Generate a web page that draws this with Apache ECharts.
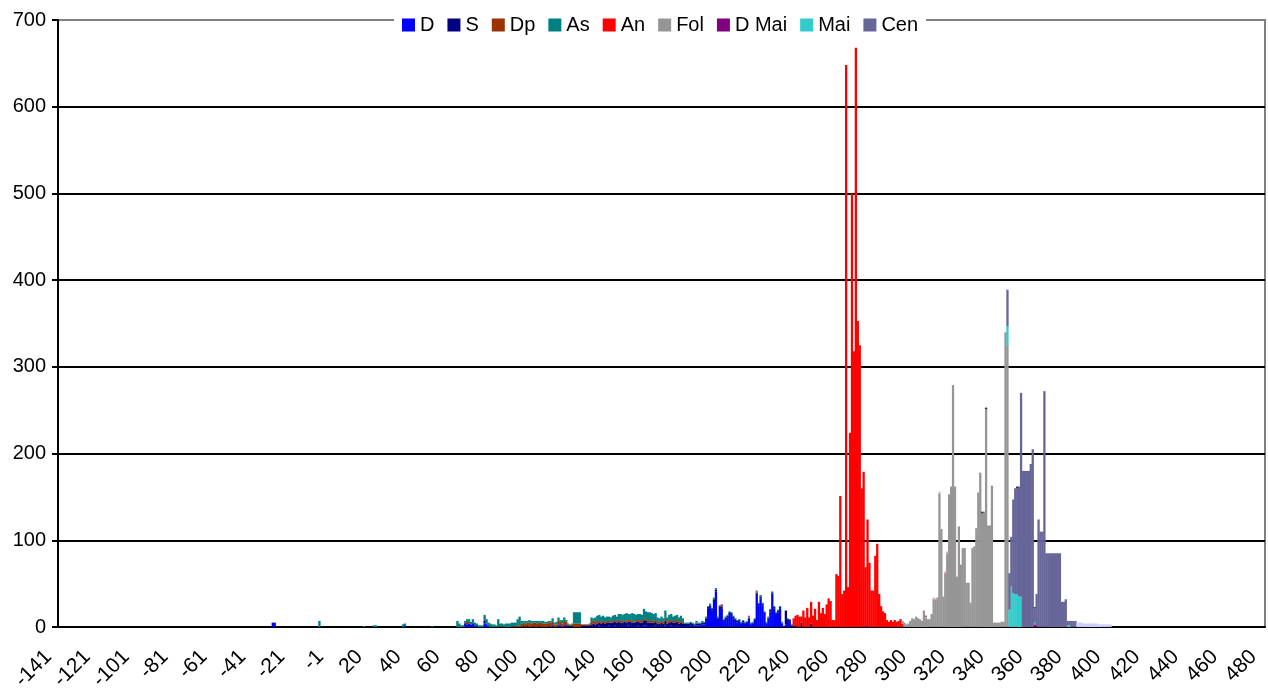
<!DOCTYPE html>
<html><head><meta charset="utf-8">
<script src="https://cdn.jsdelivr.net/npm/echarts@6/dist/echarts.min.js"></script>
<style>html,body{margin:0;padding:0;background:#fff}#c{width:1268px;height:690px}</style>
</head><body><div id="c"></div>
<script>
// ---- categories: years -141..-1, 1..480 (no year 0) ----
const FIRST_YEAR = -141, LAST_YEAR = 480;
const categories = [];
for (let y = FIRST_YEAR; y <= LAST_YEAR; y++) if (y !== 0) categories.push(String(y));

const legendNames = ['D','S','Dp','As','An','Fol','D Mai','Mai','Cen'];
const yTicks = [0,100,200,300,400,500,600,700];

// ---- series values (start year + consecutive yearly values, plus isolated [year,value] pairs) ----
const D_START = 60;
const D_VALS = [
 0,0,0,0,0,0,0,0,0,4, 3,4,3,4,2,1,0,0,0,4, 3,1,0,0,0,0,0,0,0,0, 0,0,0,0,0,0,0,0,0,0,
 0,0,0,0,0,0,0,0,0,0, 0,0,0,0,1,0,0,2,1,0, 2,1,0,0,0,0,0,0,0,0, 0,0,0,0,1,1,1,1,2,1,
 1,1,1,2,1,1,2,1,1,1, 1,1,1,2,1,1,1,1,2,1, 1,2,2,1,1,1,1,2,1,1, 1,1,2,1,1,2,1,1,2,1,
 1,1,1,1,1,2,1,2,2,2, 2,3,3,8,21,23,19,30,41,8, 22,21,6,9,11,15,14,10,7,5,
 6,4,5,4,5,8,3,4,7,37, 25,33,25,15,4,10,18,37,21,14, 17,21,4,0,3,7,6,1,0,0, 0];
const D_EXTRA = [[-31,5],[-30,5],[38,2],[275,2]];

const S_START = 60;
const S_VALS = [
 0,0,0,0,0,0,0,0,0,1, 0,0,0,1,0,0,0,0,0,3, 1,0,0,0,0,0,0,0,0,0, 0,0,0,0,0,0,0,0,0,1,
 0,1,0,0,1,0,0,1,0,0, 0,0,1,0,1,0,0,1,1,0, 1,1,1,1,1,0,0,0,0,2, 2,2,2,2,2,3,2,3,3,3,
 4,3,4,3,4,4,4,4,5,4, 4,5,4,4,5,4,4,5,4,4, 4,5,5,4,4,4,4,4,3,3, 4,3,5,3,4,4,4,4,4,3,
 4,3,3,3,3,3,3,1,2,2, 2,2,2,2,2,2,2,2,2,2, 2,2,2,2,2,2,2,2,2,2,
 2,1,2,1,1,2,1,1,2,2, 2,2,2,2,1,1,2,2,2,2, 2,2,1,1,16,2,2,1,1,2, 0];
const S_EXTRA = [[242,5],[247,4]];

const DP_START = 60;
const DP_VALS = [
 0,0,0,0,0,0,0,0,0,0, 3,2,0,0,0,0,0,0,0,1, 0,0,0,0,0,0,0,1,1,0, 0,0,0,1,1,1,2,2,4,4,
 4,4,5,4,4,5,4,4,5,4, 4,4,4,5,4,3,3,4,4,4, 4,4,2,1,2,4,4,4,4,1, 1,1,1,1,3,3,3,3,2,2,
 2,2,2,2,1,2,2,2,2,2, 2,1,2,2,2,2,1,2,2,2, 2,3,2,2,2,2,2,2,2,2, 2,2,4,2,3,2,2,2,3,2,
 2,2,0,0,0,0,0,0,1,0, 0,0,0,0,0,0,0,0,0,0, 0,0,0,0,0,0,0,0,0,0,
 0,0,0,0,0,1,0,0,0,1, 0,0,0,0,0,0,0,0,0,0, 0,0,0,0,0,0,0,0,0,0, 0];

const AS_START = 60;
const AS_VALS = [
 0,0,0,0,0,7,4,2,2,2, 3,3,3,4,3,3,2,2,2,6, 5,4,4,3,3,2,9,3,3,3, 4,4,4,4,4,4,7,10,3,2,
 3,2,3,3,2,2,3,2,2,3, 2,2,2,2,4,2,3,4,2,4, 4,2,1,1,1,13,13,13,13,0, 0,0,0,1,5,3,5,6,7,6,
 6,5,5,5,5,6,6,5,7,8, 7,8,9,7,7,9,9,6,7,8, 7,11,9,10,10,9,8,8,5,4, 5,4,8,5,6,7,5,6,5,5,
 6,4,1,1,1,1,1,1,2,1, 1,2,1,2,1,2,1,2,2,2, 1,1,1,1,1,1,1,1,1,1,
 1,1,1,1,1,1,1,1,1,1, 1,2,1,1,1,1,1,2,1,1, 1,1,1,0,0,1,1,1,0,0, 0];
const AS_EXTRA = [[-7,7],[17,1],[22,2],[23,2],[37,3],[38,2],[52,1]];

const AN_START = 238;
const AN_VALS = [
 9,11,14,12,7,19,11,22,11,25, 13,21,8,29,16,22,15,26,33,30,
 8,8,61,59,151,38,42,648,46,224, 500,318,668,353,325,160,179,67,124,74,
 42,42,82,96,38,24,18,16,8,6, 8,6,8,6,7,9,4];
const AN_EXTRA = [[201,2],[215,1],[219,1]];

const FOL_START = 294;
const FOL_VALS = [
 3,5,3,4,7,10,9,12,10,9, 7,19,11,9,9,15,32,32,34,154,
 113,35,62,85,153,162,279,162,58,116, 72,91,91,51,51,28,91,93,114,155,
 178,131,133,251,117,117,163,5,5,5, 5,6,6,340,325];

const DMAI_EXTRA = [[362,3],[363,2]];

const MAI_START = 348;
const MAI_VALS = [22,20,47,39,38,38,35,35];
const MAI_EXTRA = [[362,2],[379,2],[380,2]];

const CEN_START = 348;
const CEN_VALS = [
 42,42,57,108,122,122,127,235,180,180, 180,180,188,205,17,36,124,110,110,272,
 85,85,85,85,85,85,85,85,29,29, 32,5,5,7,7,7];

const PINK_EXTRA = [[306,1],[310,2],[311,1],[313,2],[316,2],[317,2]];
const DARK_EXTRA = [[306,1],[335,2],[337,2],[353,2],[362,1]];
const LAV_START = 384;
const LAV_VALS = [5,5,5,4,4,4,4,4,4,4,4,3,3,3,3,3,3,3];

// ---- helpers ----
function idx(y) { return y < 0 ? y - FIRST_YEAR : y - FIRST_YEAR - 1; }
function build(start, vals, extras) {
  const a = new Array(categories.length).fill(0);
  if (vals) vals.forEach((v, k) => { a[idx(start + k)] = v; });
  (extras || []).forEach(([y, v]) => { a[idx(y)] = v; });
  return a;
}

const seriesDefs = [
  ['D', '#0000FF', build(D_START, D_VALS, D_EXTRA)],
  ['S', '#000080', build(S_START, S_VALS, S_EXTRA)],
  ['Dp', '#993300', build(DP_START, DP_VALS)],
  ['As', '#008080', build(AS_START, AS_VALS, AS_EXTRA)],
  ['An', '#FF0000', build(AN_START, AN_VALS, AN_EXTRA)],
  ['Fol', '#969696', build(FOL_START, FOL_VALS)],
  ['D Mai', '#800080', build(0, null, DMAI_EXTRA)],
  ['Mai', '#33CCCC', build(MAI_START, MAI_VALS, MAI_EXTRA)],
  ['Cen', '#666699', build(CEN_START, CEN_VALS)],
  ['x1', '#FF99CC', build(0, null, PINK_EXTRA)],
  ['x2', '#333333', build(0, null, DARK_EXTRA)],
  ['x3', '#CCCCFF', build(LAV_START, LAV_VALS)]
];

const FONT = 'Liberation Sans, Arial, sans-serif';
const chart = echarts.init(document.getElementById('c'), null, {renderer: 'canvas'});
chart.setOption({
  animation: false,
  backgroundColor: '#fff',
  grid: {left: 58, right: 3, top: 20, bottom: 63, containLabel: false, outerBoundsMode: 'none',
         show: true, borderColor: '#808080', borderWidth: 2, backgroundColor: 'transparent'},
  legend: {
    data: legendNames, left: 394, top: 11, icon: 'rect', itemWidth: 13, itemHeight: 13, itemGap: 13,
    backgroundColor: '#fff', padding: [4, 8],
    textStyle: {fontSize: 20, color: '#000', fontFamily: FONT}
  },
  xAxis: {
    type: 'category', data: categories, boundaryGap: true,
    axisLine: {lineStyle: {color: '#000', width: 2}},
    axisTick: {interval: 19, length: 6, lineStyle: {color: '#000', width: 2}},
    axisLabel: {interval: 19, rotate: 45, fontSize: 21, color: '#000', fontFamily: FONT, margin: 16,
                padding: [0, 15, 0, 0], hideOverlap: false},
    splitLine: {show: false}
  },
  yAxis: {
    type: 'value', min: yTicks[0], max: yTicks[yTicks.length - 1], interval: 100,
    axisLine: {show: true, lineStyle: {color: '#000', width: 2}},
    axisTick: {show: true, length: 6, lineStyle: {color: '#000', width: 2}},
    axisLabel: {fontSize: 20, color: '#000', fontFamily: FONT, margin: 12},
    splitLine: {show: true, showMaxLine: false, lineStyle: {color: '#000', width: 2}}
  },
  series: seriesDefs.map(([name, color, data]) => ({
    name, type: 'bar', stack: 'all', data,
    barWidth: 2.3, barCategoryGap: '0%', barGap: '0%',
    itemStyle: {color}, emphasis: {disabled: true}
  }))
});
</script></body></html>
